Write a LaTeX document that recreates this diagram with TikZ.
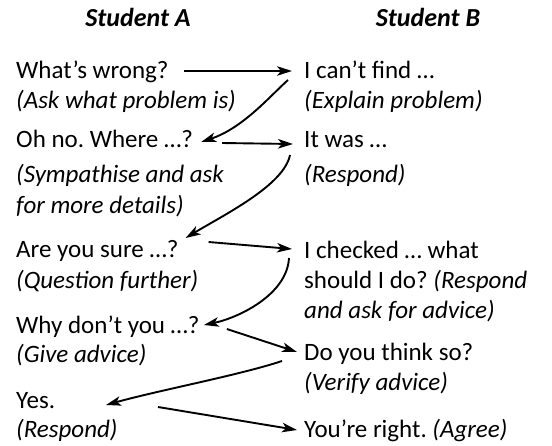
\documentclass[tikz,border=0pt]{standalone}
\usepackage{fontspec}
\setmainfont{Carlito}
\usetikzlibrary{arrows.meta}
\begin{document}
\frenchspacing
\begin{tikzpicture}[x=1pt,y=-1pt,
  say/.style={anchor=base west, inner sep=0pt, font=\fontsize{25}{28}\selectfont},
  note/.style={say, font=\fontsize{25}{28}\selectfont\itshape},
  head/.style={anchor=base, inner sep=0pt, font=\fontsize{26}{28}\selectfont\bfseries\itshape},
  link/.style={-{Stealth[length=15pt,width=9.5pt,inset=4pt]}, line width=1.9pt}]
\useasboundingbox (0,0) rectangle (552,445);

% column headings
\node[head] (ha) at (138,26) {Student A};
\node[head] (hb) at (428,26) {Student B};

% Student A
\node[say]  (a1)  at (16,78)  {What’s wrong?};
\node[note] (a1n) at (16,108) {(Ask what problem is)};
\node[say]  (a2)  at (16,147) {Oh no. Where …?};
\node[note] (a2n) at (16,182) {(Sympathise and ask};
\node[note] (a2m) at (16,213) {for more details)};
\node[say]  (a3)  at (16,257) {Are you sure …?};
\node[note] (a3n) at (16,288) {(Question further)};
\node[say]  (a4)  at (16,333) {Why don’t you …?};
\node[note] (a4n) at (16,362) {(Give advice)};
\node[say]  (a5)  at (16,408) {Yes.};
\node[note] (a5n) at (16,437) {(Respond)};

% Student B
\node[say]  (b1)  at (304,78)  {I can’t find …};
\node[note] (b1n) at (304,108) {(Explain problem)};
\node[say]  (b2)  at (304,147) {It was …};
\node[note] (b2n) at (304,182) {(Respond)};
\node[say]  (b3)  at (304,258) {I checked … what};
\node[say]  (b3n) at (304,288) {should I do? \textit{(Respond}};
\node[note] (b3m) at (304,318) {and ask for advice)};
\node[say]  (b4)  at (304,360) {Do you think so?};
\node[note] (b4n) at (304,390) {(Verify advice)};
\node[say]  (b5)  at (304,437) {You’re right. \textit{(Agree)}};

% turns of the conversation
\draw[link] ([shift={(15,-7)}]a1.base east) -- ([shift={(-12,-7)}]b1.base west);
\draw[link] ([shift={(-16,2)}]b1.base west)
  .. controls +(-18,16) and +(42,-14) .. ([shift={(8,-5)}]a2.base east);
\draw[link] ([shift={(29,-4)}]a2.base east) -- ([shift={(-11,-3)}]b2.base west);
\draw[link] ([shift={(-14,8)}]b2.base west)
  .. controls +(-6,30) and +(40,-24) .. ([shift={(7,-19)}]a3.base east);
\draw[link] ([shift={(30,-15)}]a3.base east) -- ([shift={(-12,-9)}]b3.base west);
\draw[link] ([shift={(-15,0)}]b3.base west)
  .. controls +(-2,37) and +(34,-7) .. ([shift={(4,-8)}]a4.base east);
\draw[link] ([shift={(27,-4)}]a4.base east) -- ([shift={(-7,-8)}]b4.base west);
\draw[link] ([shift={(-22,1)}]b4.base west)
  .. controls +(-42,14) and +(54,-15) .. ([shift={(90,-3)}]a5.base west);
\draw[link] ([shift={(142,-1)}]a5.base west) -- ([shift={(-7,-7)}]b5.base west);
\end{tikzpicture}
\end{document}
